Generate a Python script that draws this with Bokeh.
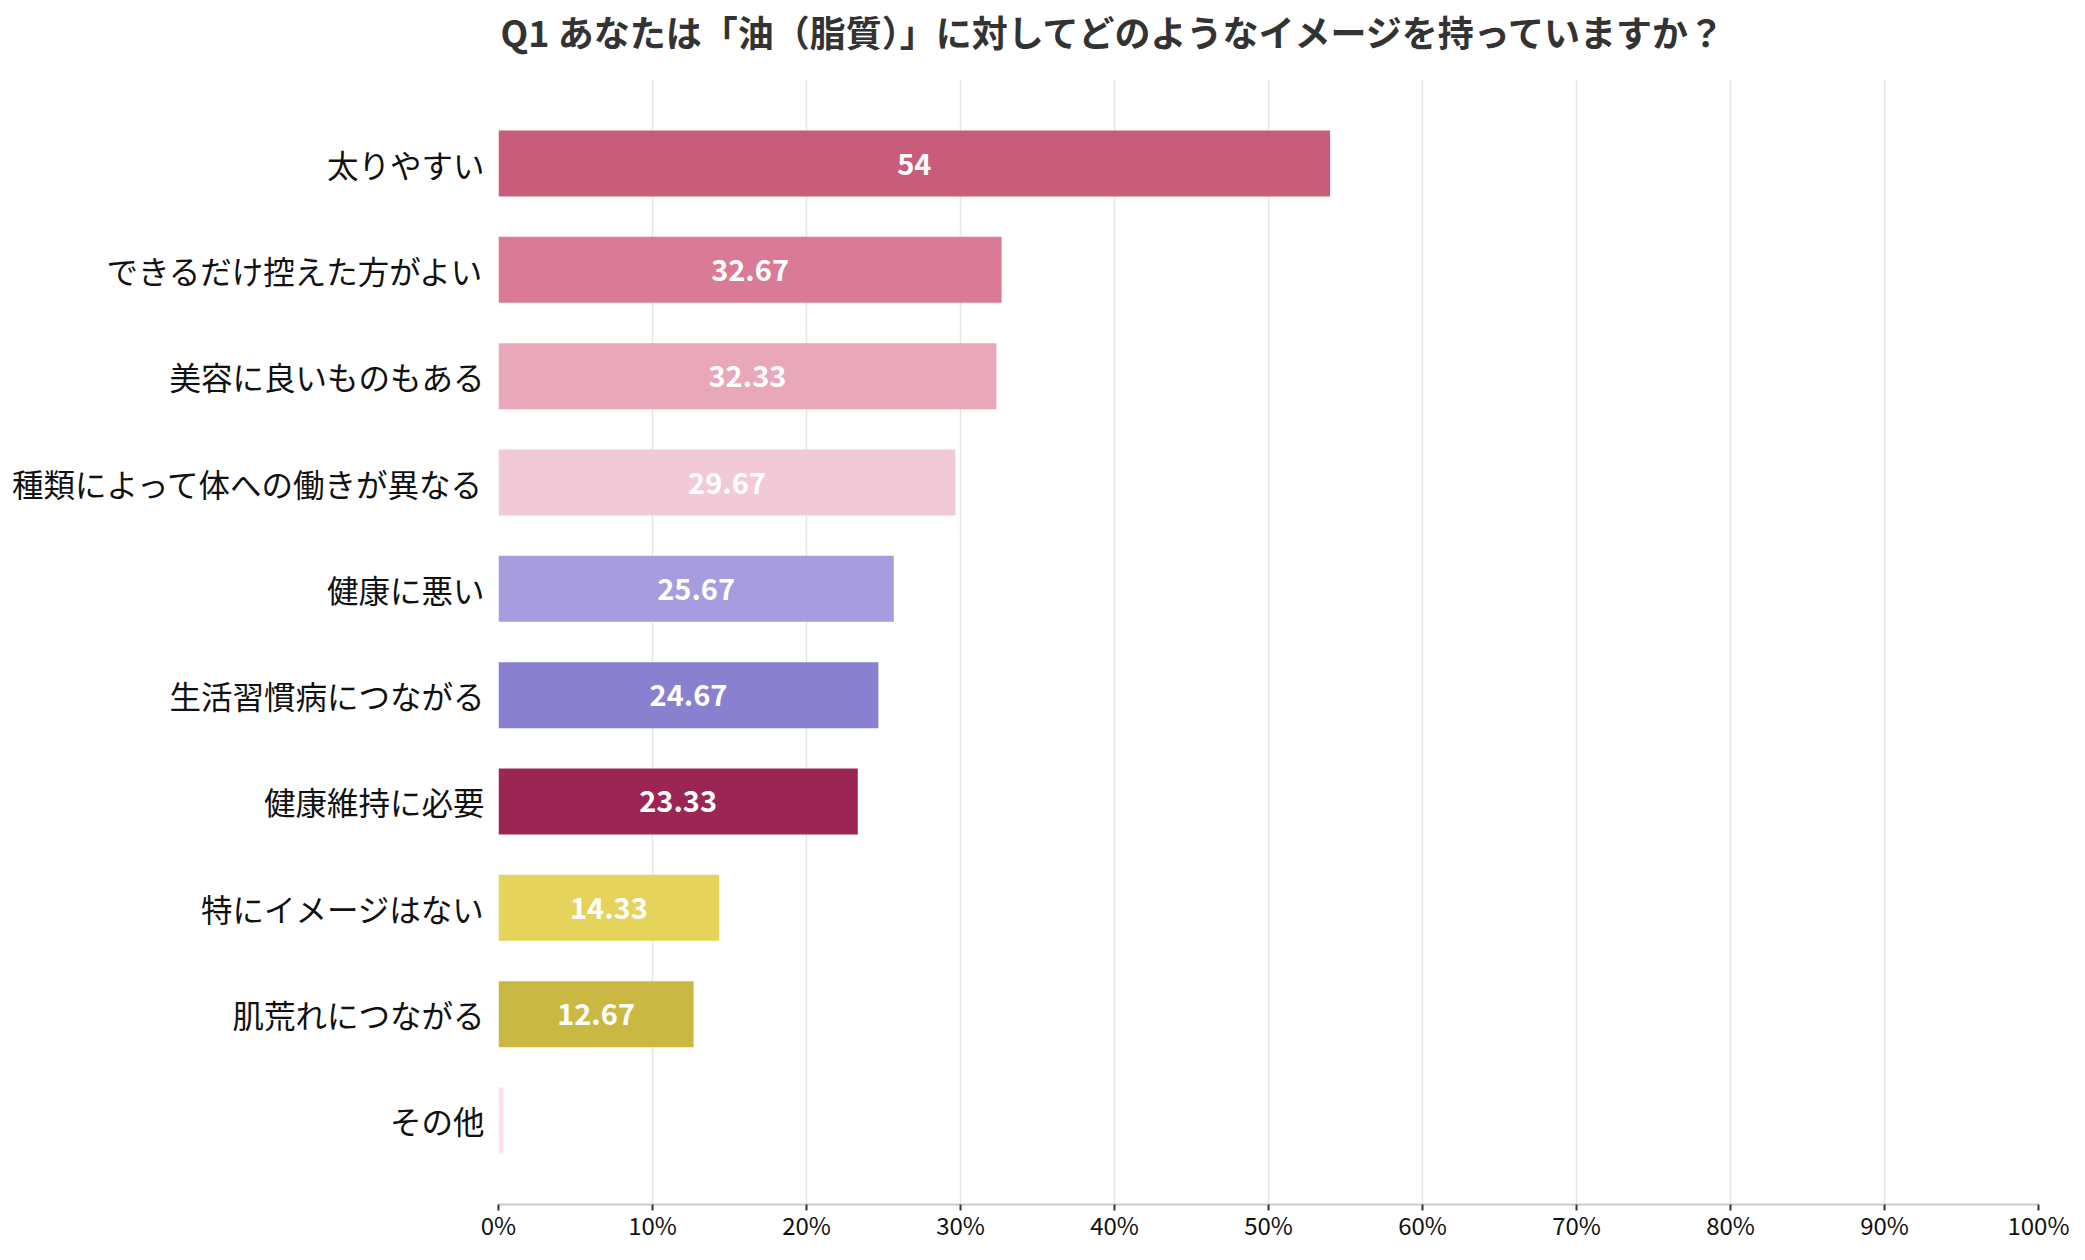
from bokeh.plotting import figure
from bokeh.models import ColumnDataSource, FactorRange, Range1d, FixedTicker, Title
from bokeh.embed import file_html
from bokeh.resources import INLINE
from bokeh.core.properties import value

title_text = "Q1 あなたは「油（脂質）」に対してどのようなイメージを持っていますか？"

categories = [
    "太りやすい",
    "できるだけ控えた方がよい",
    "美容に良いものもある",
    "種類によって体への働きが異なる",
    "健康に悪い",
    "生活習慣病につながる",
    "健康維持に必要",
    "特にイメージはない",
    "肌荒れにつながる",
    "その他",
]
values = [54, 32.67, 32.33, 29.67, 25.67, 24.67, 23.33, 14.33, 12.67, 0.33]
colors = [
    "#C75C7B", "#D97B97", "#E8A8BA", "#F2CAD7", "#A79CDD",
    "#8A80D0", "#9B2553", "#E6D35C", "#C9B943", "#FBE3EA",
]
tick_values = [0, 10, 20, 30, 40, 50, 60, 70, 80, 90, 100]
tick_labels = ["0%", "10%", "20%", "30%", "40%", "50%", "60%", "70%", "80%", "90%", "100%"]

FONT = "Noto Sans CJK JP"

W, H = 2077, 1252
B_LEFT, B_RIGHT, B_TOP, B_BOTTOM = 498, 39, 79, 48

src = ColumnDataSource(dict(cat=categories, val=values, color=colors))

lab_cats = [c for c, v in zip(categories, values) if v >= 5]
lab_vals = [v for v in values if v >= 5]
lab_src = ColumnDataSource(dict(
    cat=lab_cats,
    x=[v / 2 for v in lab_vals],
    txt=[f"{v:g}" for v in lab_vals],
))

y_range = FactorRange(factors=categories[::-1], range_padding=0.29,
                      range_padding_units="absolute")

p = figure(width=W, height=H, y_range=y_range, x_range=Range1d(0, 100),
           output_backend="svg", toolbar_location=None,
           min_border_left=B_LEFT, min_border_right=B_RIGHT,
           min_border_top=B_TOP, min_border_bottom=B_BOTTOM)

# small spacer between the title and the plot frame
p.add_layout(Title(text=" ", text_font_size="1px", standoff=20), "above")

p.title.text = title_text
p.title.text_font = FONT
p.title.text_font_size = "36px"
p.title.text_font_style = "bold"
p.title.text_color = "#333333"
p.title.align = "left"
p.title.standoff = 0
p.title.offset = 2

p.outline_line_color = None
p.background_fill_color = "white"
p.border_fill_color = "white"

p.hbar(y="cat", right="val", left=0, height=0.62, color="color",
       line_color=None, source=src)

p.text(x="x", y="cat", text="txt", source=lab_src,
       text_font=value(FONT), text_font_size="29px", text_font_style="bold",
       text_color="white", text_align="center", text_baseline="middle")

# x axis
p.xaxis.ticker = FixedTicker(ticks=tick_values)
p.xaxis.major_label_overrides = {t: l for t, l in zip(tick_values, tick_labels)}
p.xaxis.minor_tick_line_color = None
p.xaxis.major_tick_in = 0
p.xaxis.major_tick_out = 6
p.xaxis.major_tick_line_color = "#333333"
p.xaxis.major_tick_line_width = 2
p.xaxis.axis_line_color = "#cccccc"
p.xaxis.axis_line_width = 2
p.xaxis.major_label_text_font = FONT
p.xaxis.major_label_text_font_size = "24px"
p.xaxis.major_label_text_color = "#111111"
p.xaxis.major_label_standoff = -4

# y axis
p.yaxis.axis_line_color = None
p.yaxis.major_tick_line_color = None
p.yaxis.minor_tick_line_color = None
p.yaxis.major_tick_out = 0
p.yaxis.major_tick_in = 0
p.yaxis.major_label_text_font = FONT
p.yaxis.major_label_text_font_size = "31.5px"
p.yaxis.major_label_text_color = "#111111"
p.yaxis.major_label_standoff = 14

# grid
p.ygrid.grid_line_color = None
p.xgrid.ticker = FixedTicker(ticks=tick_values)
p.xgrid.grid_line_color = "#e6e6e6"
p.xgrid.grid_line_width = 1.5

open("out.html", "w").write(file_html(p, INLINE))
